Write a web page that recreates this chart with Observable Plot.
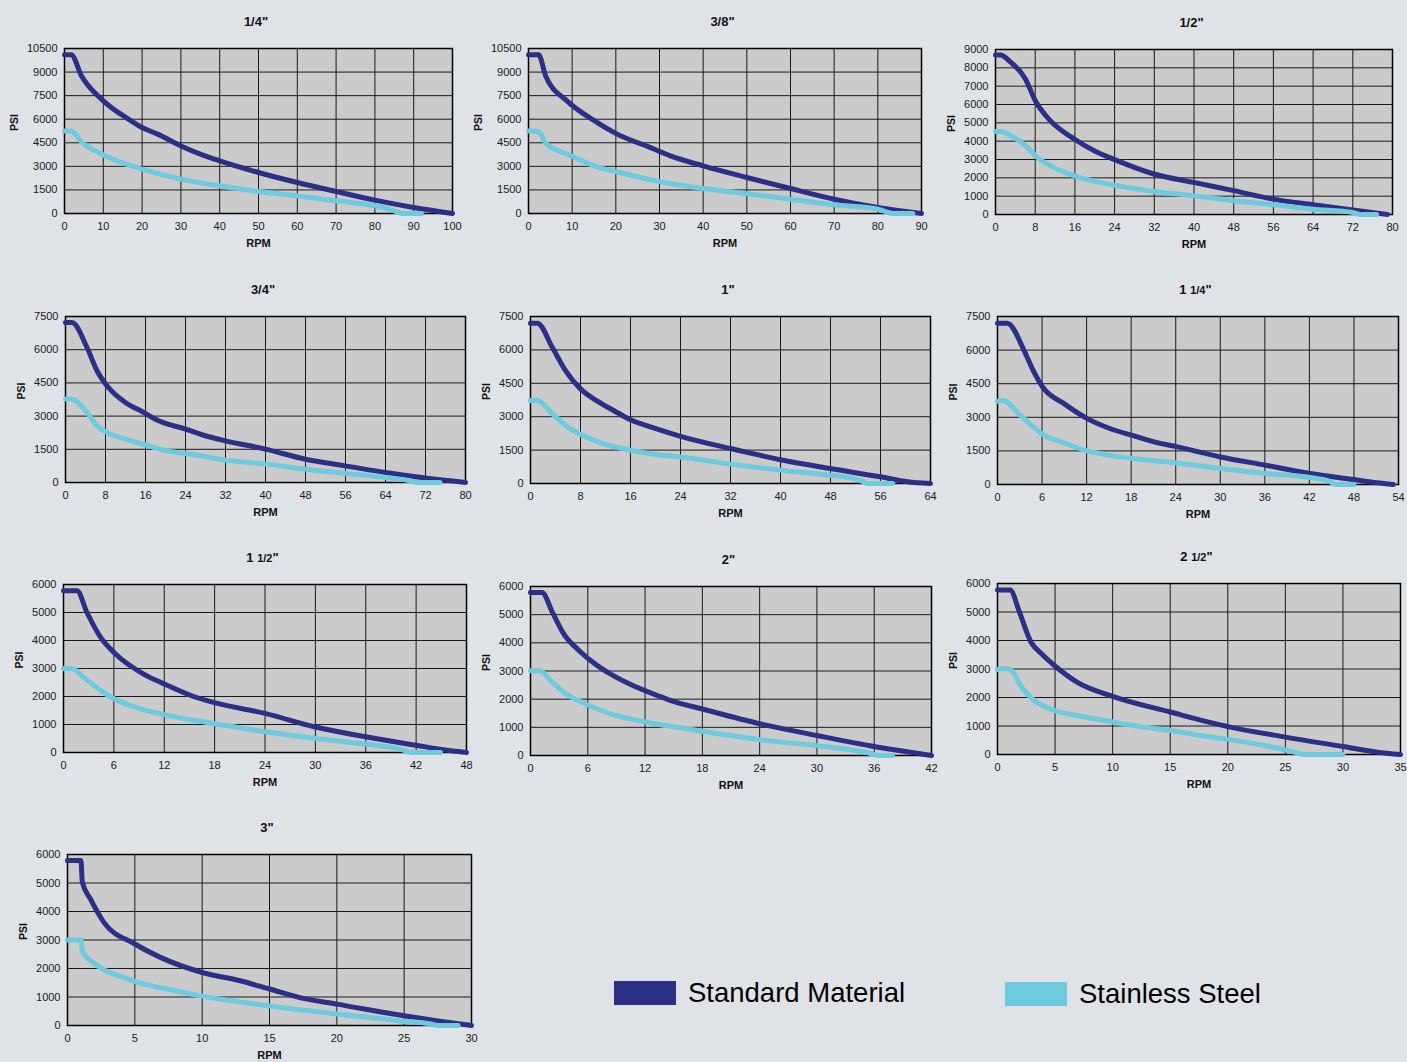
<!DOCTYPE html>
<html>
<head>
<meta charset="utf-8">
<script src="https://cdn.jsdelivr.net/npm/d3@7"></script>
<script src="https://cdn.jsdelivr.net/npm/@observablehq/plot@0.6"></script>
<style>
  html, body { margin: 0; padding: 0; background: #dfe2e7; }
  #root { position: relative; width: 1407px; height: 1062px; overflow: hidden; background: #dfe2e7; font-family: "Liberation Sans", Arial, Helvetica, sans-serif; }
  .panel { position: absolute; }
  .panel svg { max-width: none !important; display: block; }
  .title { position: absolute; transform: translate(-50%, -50%); font-weight: bold; font-size: 13px; color: #111; white-space: nowrap; }
  .title .fr { font-size: 11px; }
  .legend { position: absolute; display: flex; align-items: center; height: 24px; }
  .legend .sw { width: 62px; height: 24px; margin-right: 12px; flex: none; }
  .legend .lb { font-size: 27.5px; color: #000; white-space: nowrap; line-height: 24px; }
</style>
</head>
<body>
<div id="root"></div>
<script>
// ---------- DATA (RPM, PSI) ----------
const sizes = ['1/4"', '3/8"', '1/2"', '3/4"', '1"', '1 1/4"', '1 1/2"', '2"', '2 1/2"', '3"'];
const seriesNames = ["Standard Material", "Stainless Steel"];
const xMaxes  = [100, 90, 80, 80, 64, 54, 48, 42, 35, 30];
const xSteps  = [10, 10, 8, 8, 8, 6, 6, 6, 5, 5];
const yMaxes  = [10500, 10500, 9000, 7500, 7500, 7500, 6000, 6000, 6000, 6000];
const ySteps  = [1500, 1500, 1000, 1500, 1500, 1500, 1000, 1000, 1000, 1000];

const std_1_4 = [[0,10100],[1.7,10100],[4.5,8700],[10,7170],[16.5,6000],[20,5470],[24,5050],[30,4300],[35,3780],[40,3350],[50,2610],[60,1970],[70,1400],[80,850],[90,380],[100,0]];
const ss_1_4  = [[0,5250],[1.7,5250],[4.5,4520],[10,3730],[16.5,3100],[20,2820],[30,2190],[40,1760],[50,1400],[60,1120],[70,810],[80,490],[85,170],[87,0],[92,0]];

const std_3_8 = [[0,10100],[2.3,10100],[4,8700],[8.8,7170],[14.9,5940],[20.3,5050],[27.5,4240],[32.5,3670],[40,3030],[50,2290],[60,1590],[70,910],[80,380],[90,0]];
const ss_3_8  = [[0,5250],[2.3,5220],[4,4450],[8.8,3780],[15.7,2970],[20.3,2650],[30.2,2020],[40,1590],[47.8,1340],[60,910],[70,550],[80,280],[83.4,0],[88,0]];

const std_1_2 = [[0,8700],[1,8700],[3,8320],[6,7410],[8,6220],[11,5130],[15.8,4130],[19.8,3490],[24.5,2940],[31.9,2210],[39.9,1750],[48,1300],[56,840],[64,530],[72,240],[79,0]];
const ss_1_2  = [[0,4530],[1,4530],[3,4310],[6,3760],[8.4,3120],[11.7,2570],[15.8,2120],[21.1,1750],[26.5,1480],[31.9,1260],[39.9,1020],[48,750],[56,530],[64,290],[72,110],[73.5,0],[76.8,0]];

const std_3_4 = [[0,7230],[1.3,7230],[4.3,6100],[6.3,5050],[8.3,4370],[12,3610],[15.7,3160],[18.3,2820],[24,2410],[27,2180],[32,1880],[40,1510],[48,1050],[56,750],[64,450],[72,200],[80,0]];
const ss_3_4  = [[0,3770],[1.1,3770],[4.3,3160],[6.3,2560],[8.3,2260],[12,1960],[16,1700],[20.3,1430],[24,1310],[27,1210],[32,1010],[40,830],[48,600],[56,410],[64,230],[69,75],[70.3,0],[74.9,0]];

const std_1   = [[0,7200],[1.1,7200],[3.5,6110],[5.6,5070],[8,4250],[10.7,3700],[13.3,3280],[16,2860],[19.2,2540],[24,2120],[32,1570],[40,1070],[48,670],[56,300],[60.3,75],[64,0]];
const ss_1    = [[0,3730],[1.1,3730],[3.5,3130],[5.6,2610],[8,2210],[10.9,1860],[16,1490],[19.2,1340],[24,1190],[32,870],[40,600],[48,370],[51.7,220],[53.3,75],[53.9,0],[57.9,0]];

const std_1_14 = [[0,7200],[1.3,7200],[3.6,5970],[4.7,5160],[6.1,4340],[9,3600],[12.1,2940],[15.2,2490],[18.2,2190],[21.1,1900],[24.2,1680],[30,1230],[36.1,860],[42.1,490],[48,220],[51.1,75],[53.3,0]];
const ss_1_14  = [[0,3720],[0.7,3750],[3.1,3080],[6.1,2240],[9,1850],[12.1,1500],[15.2,1300],[18.2,1160],[24.2,960],[30,710],[36.1,490],[42.1,310],[44.8,120],[45.5,0],[48,0]];

const std_1_12 = [[0,5780],[1.6,5780],[2.8,5000],[4.4,4120],[6.2,3520],[9.5,2810],[11.9,2460],[15.5,2000],[18.1,1770],[24.1,1390],[30,910],[36,560],[42,260],[45.7,80],[48,0]];
const ss_1_12  = [[0,2990],[1,3000],[2.4,2690],[4.4,2220],[6.2,1890],[9.1,1570],[11.9,1360],[15.5,1150],[18.1,1030],[24.1,740],[30,500],[36,300],[40.2,110],[41.4,0],[44.9,0]];

const std_2   = [[0,5790],[1.2,5790],[2.3,5080],[3.5,4310],[5.1,3720],[7,3190],[8.4,2890],[10.5,2520],[13.3,2130],[14.7,1950],[18,1650],[24.1,1120],[30,710],[36,320],[39.1,150],[42,0]];
const ss_2    = [[0,3010],[1,3010],[2.1,2660],[3.7,2190],[5.8,1830],[8.2,1500],[12.2,1180],[15.4,1000],[18,860],[24.1,560],[30,350],[33.9,180],[36,35],[36.3,0],[37.9,0]];

const std_2_12 = [[0,5770],[1.1,5770],[1.9,5000],[2.9,3950],[3.8,3540],[5.1,3070],[6.9,2540],[10,2040],[15,1490],[20,980],[25,610],[30,280],[33,80],[35,0]];
const ss_2_12  = [[0,2980],[0.7,3020],[1.3,2930],[1.9,2480],[3,1960],[4.9,1550],[6.9,1370],[10,1140],[12.4,980],[15,840],[18.2,630],[20,530],[23.1,320],[25,160],[26.3,25],[26.6,0],[30,0]];

const std_3   = [[0,5790],[1,5790],[1.1,5030],[1.7,4440],[2.7,3620],[5,2860],[6.9,2390],[10,1860],[12.9,1560],[15,1280],[17.5,950],[20,750],[25,340],[27.5,160],[30,0]];
const ss_3    = [[0,3000],[1,3000],[1.1,2620],[1.9,2210],[2.7,1960],[4.5,1630],[5.7,1450],[7.4,1280],[9.9,1040],[14.9,690],[20,400],[24.8,160],[27,50],[27.5,0],[29,0]];

const stdSeries = [std_1_4, std_3_8, std_1_2, std_3_4, std_1, std_1_14, std_1_12, std_2, std_2_12, std_3];
const ssSeries  = [ss_1_4, ss_3_8, ss_1_2, ss_3_4, ss_1, ss_1_14, ss_1_12, ss_2, ss_2_12, ss_3];

// ---------- LAYOUT (frame boxes in page px: left, top, right, bottom) ----------
const frames = [
  [64, 48, 452, 213], [528, 48, 921, 213], [995, 49, 1392, 214],
  [65, 316, 465, 482], [530, 316, 930, 483], [997, 316, 1398, 484],
  [63, 584, 466, 752], [530, 586, 931, 755], [997, 583, 1400, 754],
  [67, 854, 471, 1025]
];
const NAVY = "#2b3086", CYAN = "#6dcbdd";
const root = document.getElementById("root");
const ML = 62, MT = 10, MR = 20, MB = 45;

function titleHTML(t) {
  const m = t.match(/^(\d) (\d\/\d)"$/);
  if (m) return `${m[1]} <span class="fr">${m[2]}</span>"`;
  return t;
}

sizes.forEach((name, i) => {
  const [l, t, r, b] = frames[i];
  const fw = r - l, fh = b - t;
  const xt = d3.range(0, xMaxes[i] + 1e-9, xSteps[i]);
  const yt = d3.range(0, yMaxes[i] + 1e-9, ySteps[i]);
  const psiOff = yMaxes[i] >= 10000 ? 50 : 44;
  const W = fw + ML + MR, H = fh + MT + MB;
  const chart = Plot.plot({
    width: W, height: H,
    marginLeft: ML, marginTop: MT, marginRight: MR, marginBottom: MB,
    style: { background: "transparent", overflow: "visible", maxWidth: "none", fontFamily: '"Liberation Sans", Arial, sans-serif', fontSize: "11px", color: "#1a1a1a" },
    x: { domain: [0, xMaxes[i]] },
    y: { domain: [0, yMaxes[i]] },
    marks: [
      Plot.frame({ fill: "#cbcbcb", stroke: "none" }),
      Plot.gridX({ ticks: xt, stroke: "#1a1a1a", strokeOpacity: 1, strokeWidth: 1 }),
      Plot.gridY({ ticks: yt, stroke: "#1a1a1a", strokeOpacity: 1, strokeWidth: 1 }),
      Plot.frame({ stroke: "#000", strokeWidth: 1.5 }),
      Plot.line(stdSeries[i], { x: d => d[0], y: d => d[1], stroke: NAVY, strokeWidth: 5, curve: "monotone-x" }),
      Plot.line(ssSeries[i], { x: d => d[0], y: d => d[1], stroke: CYAN, strokeWidth: 5, curve: "monotone-x" }),
      Plot.axisX({ ticks: xt, tickSize: 0, tickPadding: 9, label: null, tickFormat: d => String(d) }),
      Plot.axisY({ ticks: yt, tickSize: 0, tickPadding: 7, label: null, tickFormat: d => String(d) }),
      Plot.text(["RPM"], { frameAnchor: "bottom", dy: 33, fontWeight: "bold", fontSize: 11, fill: "#111" }),
      Plot.text(["PSI"], { frameAnchor: "left", dx: -psiOff, rotate: -90, fontWeight: "bold", fontSize: 10.5, fill: "#111" })
    ]
  });
  const wrap = document.createElement("div");
  wrap.className = "panel";
  wrap.style.left = (l - ML) + "px";
  wrap.style.top = (t - MT) + "px";
  wrap.style.width = W + "px";
  wrap.style.height = H + "px";
  wrap.appendChild(chart);
  root.appendChild(wrap);

  const tt = document.createElement("div");
  tt.className = "title";
  tt.innerHTML = titleHTML(name);
  tt.style.left = ((l + r) / 2 - 2) + "px";
  tt.style.top = (t - 27) + "px";
  root.appendChild(tt);
});

// ---------- LEGEND ----------
const legendPos = [[614, 981], [1005, 982]];
seriesNames.forEach((n, k) => {
  const lg = document.createElement("div");
  lg.className = "legend";
  lg.style.left = legendPos[k][0] + "px";
  lg.style.top = legendPos[k][1] + "px";
  lg.innerHTML = `<div class="sw" style="background:${k === 0 ? NAVY : CYAN}"></div><div class="lb">${n}</div>`;
  root.appendChild(lg);
});
</script>
</body>
</html>
